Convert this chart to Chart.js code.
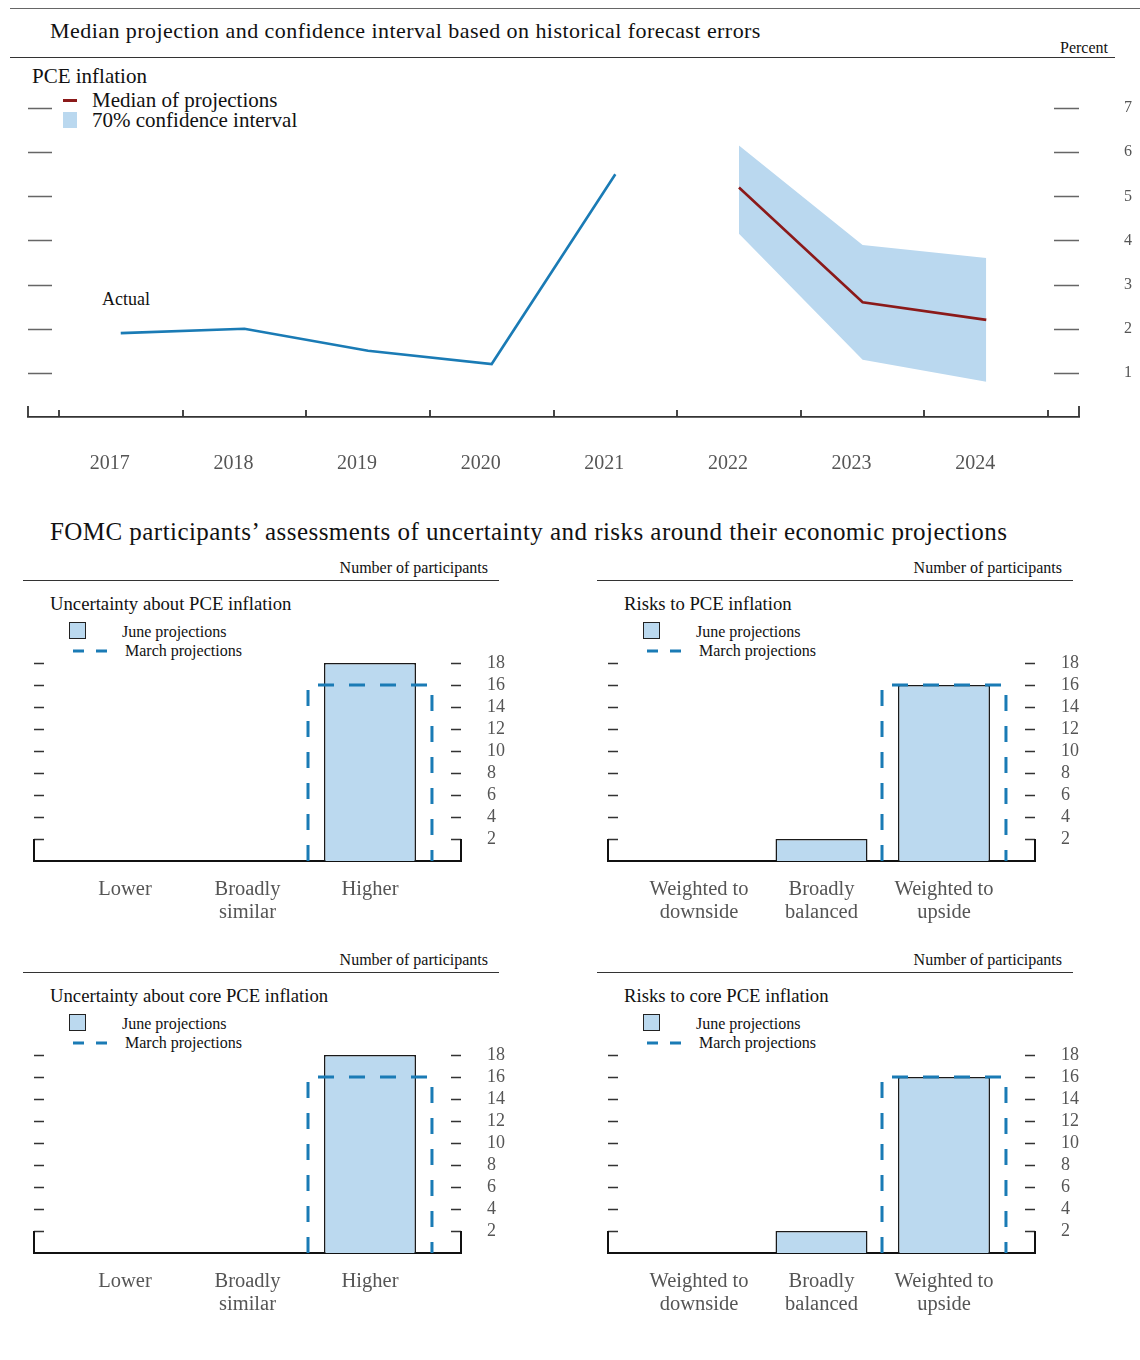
<!DOCTYPE html>
<html>
<head>
<meta charset="utf-8">
<script src="https://cdn.jsdelivr.net/npm/chart.js@4.4.0/dist/chart.umd.min.js"></script>
<style>
  html, body { margin: 0; padding: 0; background: #fff; }
  body {
    width: 1140px; height: 1360px; position: relative; overflow: hidden;
    font-family: "Liberation Serif", "Times New Roman", serif; color: #111;
  }
  .t { position: absolute; white-space: nowrap; line-height: 1; }
  .rule { position: absolute; height: 0; border-top: 1.5px solid #333; }
  canvas { position: absolute; }
</style>
</head>
<body>

<div class="rule" style="left:10px; width:1130px; top:8px; border-color:#666;"></div>
<div class="t" style="left:50px; top:20px; font-size:22px; letter-spacing:0.45px;">Median projection and confidence interval based on historical forecast errors</div>
<div class="t" style="right:32px; top:40px; font-size:16px;">Percent</div>
<div class="rule" style="left:10px; width:1105px; top:57px;"></div>

<div class="t" style="left:32px; top:66px; font-size:21px;">PCE inflation</div>
<div style="position:absolute; left:63px; top:99px; width:14px; height:3px; background:#8b1a1a;"></div>
<div class="t" style="left:92px; top:90px; font-size:21px;">Median of projections</div>
<div style="position:absolute; left:63px; top:112px; width:14px; height:16px; background:#bad8ef;"></div>
<div class="t" style="left:92px; top:110px; font-size:21px;">70% confidence interval</div>
<div class="t" style="left:102px; top:290px; font-size:18px;">Actual</div>

<canvas id="pceChart" width="1140" height="440" style="left:0; top:60px;"></canvas>

<div class="t" style="left:50px; top:519px; font-size:25px; letter-spacing:0.45px;">FOMC participants’ assessments of uncertainty and risks around their economic projections</div>

<div id="panels"></div>

<script>
// ---- top chart data ----
const years = [2017, 2018, 2019, 2020, 2021, 2022, 2023, 2024];
const actualYears = [2017, 2018, 2019, 2020, 2021];
const actualPce = [1.9, 2.0, 1.5, 1.2, 5.5];
const projYears = [2022, 2023, 2024];
const medianPce = [5.2, 2.6, 2.2];
const bandUpper = [6.15, 3.9, 3.6];
const bandLower = [4.15, 1.3, 0.8];
const pctTicks = [1, 2, 3, 4, 5, 6, 7];

// ---- participant panels data ----
const uncertaintyCats = ['Lower', ['Broadly', 'similar'], 'Higher'];
const riskCats = [['Weighted to', 'downside'], ['Broadly', 'balanced'], ['Weighted to', 'upside']];
const uncPceJune = [0, 0, 18];
const uncPceMarch = [0, 0, 16];
const riskPceJune = [0, 2, 16];
const riskPceMarch = [0, 0, 16];
const uncCoreJune = [0, 0, 18];
const uncCoreMarch = [0, 0, 16];
const riskCoreJune = [0, 2, 16];
const riskCoreMarch = [0, 0, 16];
const countTicks = [2, 4, 6, 8, 10, 12, 14, 16, 18];

const blue = '#1a7bb5';
const red = '#8b1a1a';
const bandFill = '#bad8ef';
const juneFill = '#bbd9ef';
const tickGray = '#555';
const serif = '"Liberation Serif", "Times New Roman", serif';

// short marks on both edges of the plot, end caps and inward x ticks
const edgeMarks = {
  id: 'edgeMarks',
  afterDraw(chart, args, opts) {
    const { ctx, chartArea: a, scales } = chart;
    const y = scales.y, x = scales.x;
    ctx.save();
    ctx.strokeStyle = opts.tickColor;
    ctx.lineWidth = opts.tickWidth;
    ctx.beginPath();
    y.ticks.forEach(t => {
      const py = Math.round(y.getPixelForValue(t.value)) + 0.5;
      ctx.moveTo(a.left, py); ctx.lineTo(a.left + opts.leftLen, py);
      ctx.moveTo(a.right - opts.rightLen, py); ctx.lineTo(a.right, py);
    });
    ctx.stroke();

    ctx.strokeStyle = opts.axisColor;
    ctx.lineWidth = opts.axisWidth;
    ctx.beginPath();
    const capTop = opts.capTo != null ? y.getPixelForValue(opts.capTo) : a.bottom - opts.capLen;
    ctx.moveTo(a.left, a.bottom); ctx.lineTo(a.left, capTop);
    ctx.moveTo(a.right, a.bottom); ctx.lineTo(a.right, capTop);
    (opts.xMarks || []).forEach(v => {
      const px = Math.round(x.getPixelForValue(v));
      ctx.moveTo(px, a.bottom); ctx.lineTo(px, a.bottom - opts.xMarkLen);
    });
    ctx.stroke();
    ctx.restore();
  }
};

// dashed open outline for the March bars
const dashedOutline = {
  id: 'dashedOutline',
  afterDatasetsDraw(chart, args, opts) {
    if (opts.datasetIndex == null) return;
    const { ctx } = chart;
    const ds = chart.data.datasets[opts.datasetIndex];
    const meta = chart.getDatasetMeta(opts.datasetIndex);
    meta.data.forEach((bar, j) => {
      if (!ds.data[j].y) return;
      const { x, y, base, width } = bar.getProps(['x', 'y', 'base', 'width'], true);
      const l = x - width / 2, r = x + width / 2;
      ctx.save();
      ctx.strokeStyle = opts.color;
      ctx.lineWidth = opts.width;
      ctx.setLineDash(opts.dash);
      ctx.beginPath();
      ctx.moveTo(l, base); ctx.lineTo(l, y); ctx.lineTo(r, y); ctx.lineTo(r, base);
      ctx.stroke();
      ctx.restore();
    });
  }
};

Chart.register(edgeMarks, dashedOutline);

// ---- top line chart ----
const yearBounds = years.map(v => v - 0.5).concat([years[years.length - 1] + 0.5]);

new Chart(document.getElementById('pceChart').getContext('2d'), {
  type: 'line',
  data: {
    datasets: [
      {
        label: 'Median of projections',
        data: projYears.map((yr, i) => ({ x: yr, y: medianPce[i] })),
        borderColor: red, borderWidth: 2.6, pointRadius: 0, fill: false, tension: 0
      },
      {
        label: 'Actual',
        data: actualYears.map((yr, i) => ({ x: yr, y: actualPce[i] })),
        borderColor: blue, borderWidth: 2.6, pointRadius: 0, fill: false, tension: 0
      },
      {
        label: '70% confidence interval',
        data: projYears.map((yr, i) => ({ x: yr, y: bandUpper[i] })),
        borderWidth: 0, pointRadius: 0, backgroundColor: bandFill, fill: '+1'
      },
      {
        label: 'lower bound',
        data: projYears.map((yr, i) => ({ x: yr, y: bandLower[i] })),
        borderWidth: 0, pointRadius: 0, fill: false
      }
    ]
  },
  options: {
    responsive: false,
    animation: false,
    layout: { padding: { left: 28, top: 26, right: 0, bottom: 0 } },
    plugins: {
      legend: { display: false },
      tooltip: { enabled: false },
      edgeMarks: {
        tickColor: '#666', tickWidth: 1.5, leftLen: 24, rightLen: 25,
        axisColor: '#333', axisWidth: 1.8, capLen: 11, xMarks: yearBounds, xMarkLen: 7
      }
    },
    scales: {
      x: {
        type: 'linear',
        min: 2016.25,
        max: 2024.75,
        afterBuildTicks: scale => { scale.ticks = years.map(v => ({ value: v })); },
        afterFit: scale => { scale.height = 83; },
        grid: { display: false, drawTicks: true, tickLength: 35 },
        border: { display: true, color: '#333', width: 1.8 },
        ticks: {
          callback: v => String(v),
          color: tickGray,
          font: { family: serif, size: 20 },
          padding: 0,
          labelOffset: -11,
          maxRotation: 0
        }
      },
      y: {
        type: 'linear',
        position: 'right',
        min: 0,
        max: 7.5,
        afterBuildTicks: scale => { scale.ticks = pctTicks.map(v => ({ value: v })); },
        afterFit: scale => { scale.width = 61; },
        grid: { display: false, drawTicks: true, tickLength: 45 },
        border: { display: false },
        ticks: {
          color: tickGray,
          font: { family: serif, size: 16 },
          padding: 0
        }
      }
    }
  }
});

// ---- participant panels ----
function addText(parent, txt, css) {
  const d = document.createElement('div');
  d.className = 't';
  d.textContent = txt;
  Object.assign(d.style, css);
  parent.appendChild(d);
}

function makePanel(id, ox, oy, title, cats, june, march) {
  const host = document.getElementById('panels');
  addText(host, 'Number of participants', { right: (1140 - 488 - ox) + 'px', top: (560 + oy) + 'px', fontSize: '16px' });
  const rule = document.createElement('div');
  rule.className = 'rule';
  Object.assign(rule.style, { left: (23 + ox) + 'px', width: '476px', top: (580 + oy) + 'px' });
  host.appendChild(rule);
  addText(host, title, { left: (50 + ox) + 'px', top: (595 + oy) + 'px', fontSize: '18.7px' });

  const sq = document.createElement('div');
  Object.assign(sq.style, {
    position: 'absolute', left: (69 + ox) + 'px', top: (622 + oy) + 'px', width: '15px', height: '15px',
    background: juneFill, border: '1.5px solid #222'
  });
  host.appendChild(sq);
  addText(host, 'June projections', { left: (122 + ox) + 'px', top: (624 + oy) + 'px', fontSize: '16px' });

  const svgNS = 'http://www.w3.org/2000/svg';
  const svg = document.createElementNS(svgNS, 'svg');
  svg.setAttribute('width', '40'); svg.setAttribute('height', '6');
  Object.assign(svg.style, { position: 'absolute', left: (72 + ox) + 'px', top: (648 + oy) + 'px' });
  const ln = document.createElementNS(svgNS, 'line');
  ln.setAttribute('x1', '1'); ln.setAttribute('x2', '36'); ln.setAttribute('y1', '3'); ln.setAttribute('y2', '3');
  ln.setAttribute('stroke', blue); ln.setAttribute('stroke-width', '3'); ln.setAttribute('stroke-dasharray', '11 12');
  svg.appendChild(ln);
  host.appendChild(svg);
  addText(host, 'March projections', { left: (125 + ox) + 'px', top: (643 + oy) + 'px', fontSize: '16px' });

  const cv = document.createElement('canvas');
  cv.id = id; cv.width = 560; cv.height = 320;
  Object.assign(cv.style, { left: ox + 'px', top: (620 + oy) + 'px' });
  host.appendChild(cv);

  new Chart(cv.getContext('2d'), {
    type: 'bar',
    data: {
      datasets: [
        {
          label: 'June projections',
          data: cats.map((c, i) => ({ x: i, y: june[i] })),
          backgroundColor: juneFill, borderColor: '#1a1a1a', borderWidth: 1.5, borderSkipped: 'bottom',
          grouped: false, barPercentage: 0.751, categoryPercentage: 1
        },
        {
          label: 'March projections',
          data: cats.map((c, i) => ({ x: i, y: march[i] })),
          backgroundColor: 'rgba(0,0,0,0)', borderWidth: 0,
          grouped: false, barPercentage: 1.012, categoryPercentage: 1
        }
      ]
    },
    options: {
      responsive: false,
      animation: false,
      layout: { padding: { left: 34, top: 32, right: 0, bottom: 0 } },
      plugins: {
        legend: { display: false },
        tooltip: { enabled: false },
        edgeMarks: {
          tickColor: '#333', tickWidth: 1.3, leftLen: 10, rightLen: 10,
          axisColor: '#111', axisWidth: 2, capTo: countTicks[0]
        },
        dashedOutline: { datasetIndex: 1, color: blue, width: 3, dash: [16, 15] }
      },
      scales: {
        x: {
          type: 'linear',
          min: -0.743,
          max: 2.743,
          offset: false,
          afterBuildTicks: scale => { scale.ticks = cats.map((c, i) => ({ value: i })); },
          afterFit: scale => { scale.height = 79; },
          grid: { display: false, drawTicks: true, tickLength: 17.5, offset: false },
          border: { display: true, color: '#111', width: 2 },
          ticks: {
            callback: v => cats[v],
            color: tickGray,
            font: { family: serif, size: 20.5, lineHeight: 1.12 },
            padding: 0,
            maxRotation: 0,
            autoSkip: false
          }
        },
        y: {
          type: 'linear',
          position: 'right',
          min: 0,
          max: 19,
          afterBuildTicks: scale => { scale.ticks = countTicks.map(v => ({ value: v })); },
          afterFit: scale => { scale.width = 99; },
          grid: { display: false, drawTicks: true, tickLength: 26 },
          border: { display: false },
          ticks: {
            color: tickGray,
            font: { family: serif, size: 18 },
            padding: 0
          }
        }
      }
    }
  });
}

makePanel('uncPce', 0, 0, 'Uncertainty about PCE inflation', uncertaintyCats, uncPceJune, uncPceMarch);
makePanel('riskPce', 574, 0, 'Risks to PCE inflation', riskCats, riskPceJune, riskPceMarch);
makePanel('uncCore', 0, 392, 'Uncertainty about core PCE inflation', uncertaintyCats, uncCoreJune, uncCoreMarch);
makePanel('riskCore', 574, 392, 'Risks to core PCE inflation', riskCats, riskCoreJune, riskCoreMarch);
</script>
</body>
</html>
